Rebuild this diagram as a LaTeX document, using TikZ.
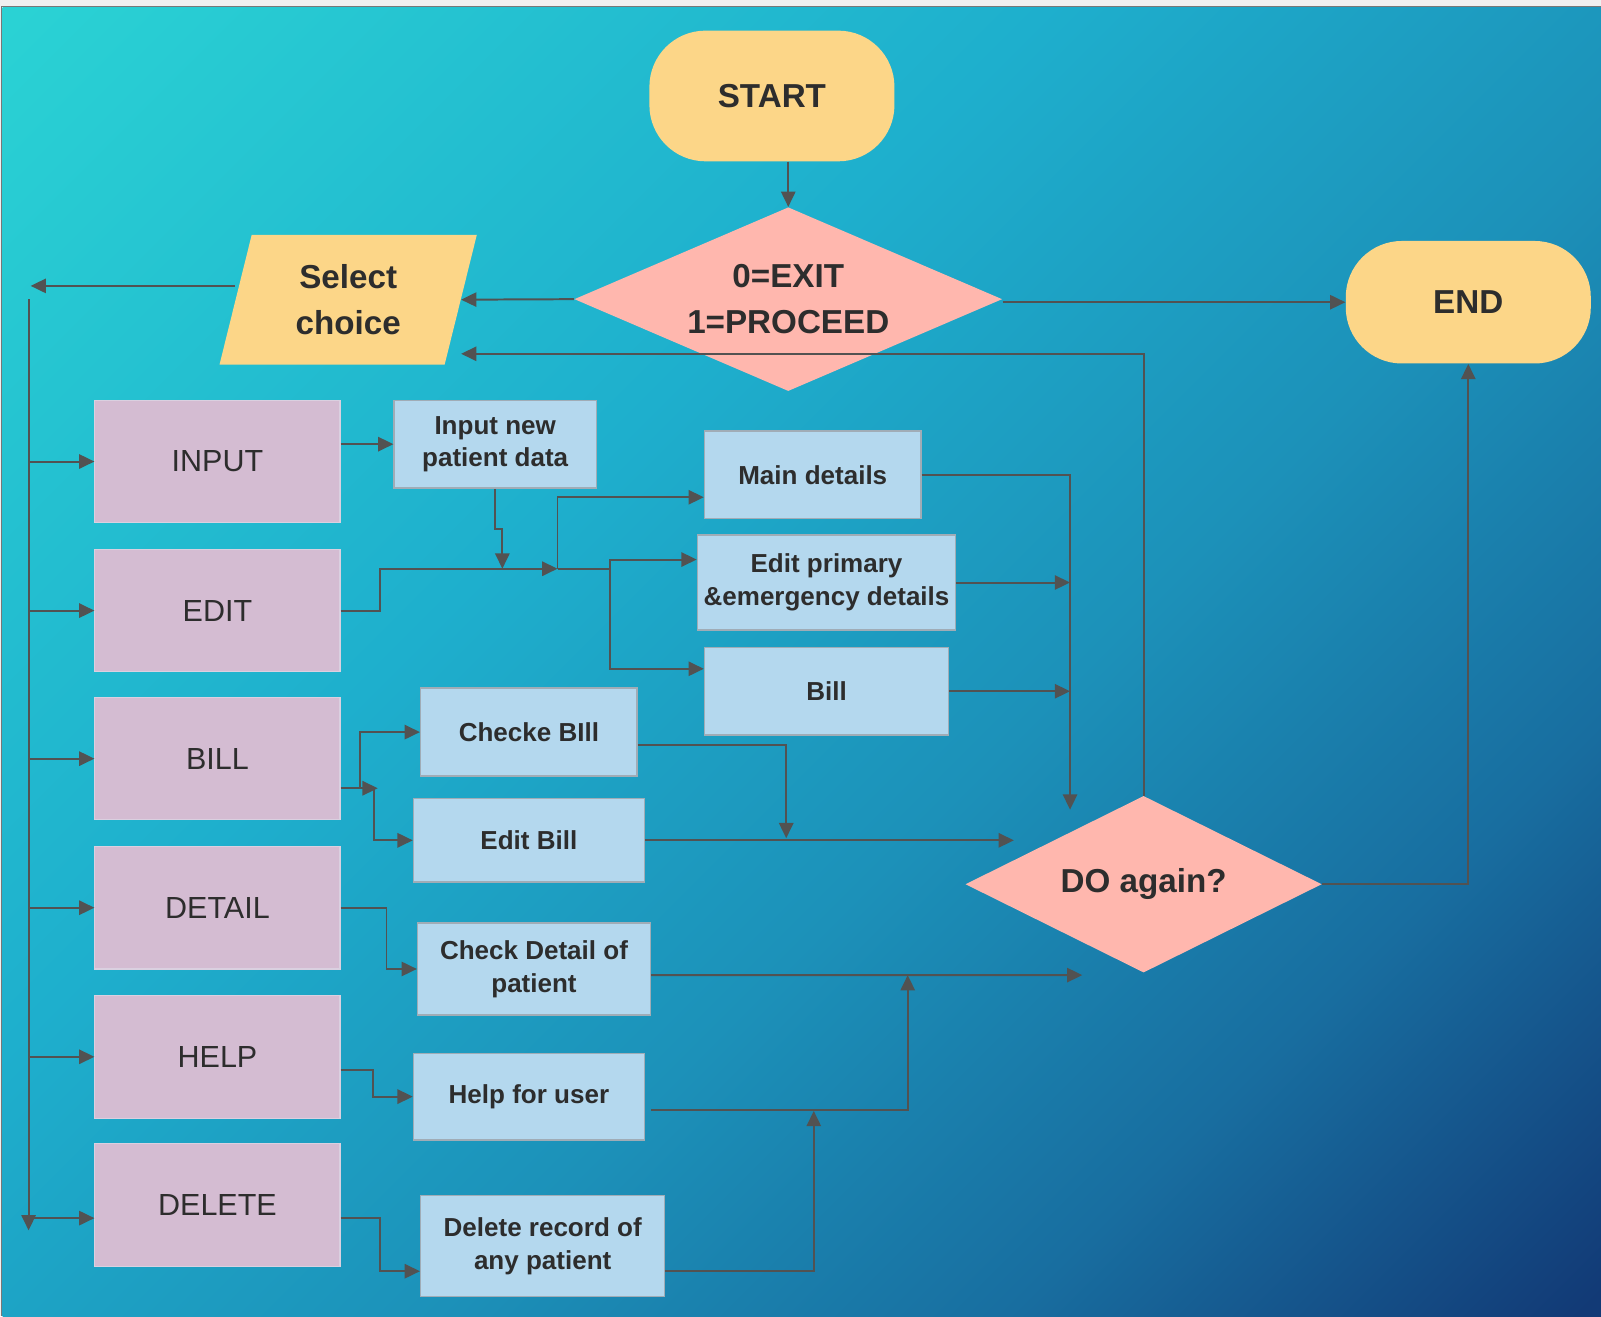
\documentclass[tikz,border=0pt]{standalone}
\usepackage{fontspec}
\setmainfont{Liberation Sans}
\usepackage{xcolor}
\usetikzlibrary{shapes.geometric, arrows.meta, calc}

\definecolor{termyellow}{RGB}{252,214,136}
\definecolor{decpink}{RGB}{255,183,174}
\definecolor{optpurple}{RGB}{212,188,210}
\definecolor{optborder}{RGB}{218,208,224}
\definecolor{taskblue}{RGB}{180,216,238}
\definecolor{taskborder}{RGB}{160,172,182}
\definecolor{linegray}{RGB}{82,82,82}
\definecolor{txtgray}{RGB}{45,45,45}
\definecolor{bggray}{RGB}{240,240,240}
\definecolor{framegray}{RGB}{120,120,120}
\definecolor{bgA}{RGB}{42,210,212}
\definecolor{bgB}{RGB}{30,175,205}
\definecolor{bgC}{RGB}{28,145,185}
\definecolor{bgD}{RGB}{24,110,160}
\definecolor{bgE}{RGB}{18,58,118}

\pgfdeclarehorizontalshading{bgshade}{100bp}{color(0bp)=(bgA); color(15bp)=(bgA); color(40bp)=(bgB); color(57bp)=(bgC); color(71bp)=(bgD); color(85bp)=(bgE); color(100bp)=(bgE)}

\begin{document}
\begin{tikzpicture}[
    term/.style={rectangle, fill=termyellow, rounded corners=1.1cm, minimum width=4.8cm, minimum height=2.56cm, font=\fontsize{18.5}{22}\selectfont\bfseries, text=txtgray},
    decide/.style={diamond, fill=decpink, inner sep=0pt, align=center, font=\fontsize{18.5}{25.6}\selectfont\bfseries, text=txtgray},
    iobox/.style={trapezium, trapezium left angle=76, trapezium right angle=104, trapezium stretches=true, fill=termyellow, minimum width=5.08cm, minimum height=2.54cm, inner sep=0pt, align=center, font=\fontsize{18.5}{25.6}\selectfont\bfseries, text=txtgray},
    opt/.style={rectangle, fill=optpurple, draw=optborder, line width=0.6pt, minimum width=4.8cm, minimum height=2.4cm, font=\fontsize{17}{20}\selectfont, text=txtgray},
    task/.style={rectangle, fill=taskblue, draw=taskborder, line width=0.8pt, inner sep=0pt, align=center, font=\fontsize{14.5}{18.2}\selectfont\bfseries, text=txtgray},
    arrow/.style={-{Triangle[length=0.3cm,width=0.28cm]}, draw=linegray, line width=1.1pt},
    link/.style={draw=linegray, line width=1.1pt}
]
    \useasboundingbox (0,0) rectangle (31.36,-25.78);

    % 背景
    \fill[bggray] (0,0) rectangle (31.36,-25.78);
    \shade[shading=bgshade, shading angle=-45] (0.05,-0.15) rectangle (31.36,-25.78);
    \draw[framegray, line width=0.9pt] (0.03,-25.78) -- (0.03,-0.13) -- (31.36,-0.13);

    % 开始 / 结束
    \node[term] (start) at (15.12,-1.88) {START};
    \node[term, minimum height=2.4cm] (finish) at (28.76,-5.92) {END};

    % 判断
    \node[decide, aspect=2.33, minimum width=8.38cm, minimum height=3.6cm] (choice) at (15.44,-5.86) {0=EXIT\\1=PROCEED};
    \node[decide, aspect=2.02, minimum width=6.98cm, minimum height=3.46cm] (again) at (22.40,-17.32) {DO again?};

    % 输入选择
    \node[iobox] (select) at (6.82,-5.87) {Select\\choice};

    % 菜单
    \node[opt] (input) at (4.26,-9.04) {INPUT};
    \node[opt] (edit) at (4.26,-11.96) {EDIT};
    \node[opt] (bill) at (4.26,-14.86) {BILL};
    \node[opt] (detail) at (4.26,-17.78) {DETAIL};
    \node[opt] (help) at (4.26,-20.70) {HELP};
    \node[opt] (delete) at (4.26,-23.60) {DELETE};

    % 子任务
    \node[task, minimum width=3.96cm, minimum height=1.72cm] (newdata) at (9.70,-8.70) {Input new\\patient data};
    \node[task, minimum width=4.24cm, minimum height=1.72cm] (maindet) at (15.92,-9.30) {Main details};
    \node[task, minimum width=5.06cm, minimum height=1.86cm] (editpri) at (16.19,-11.41) {Edit primary\\\&emergency details};
    \node[task, minimum width=4.78cm, minimum height=1.72cm] (billsub) at (16.19,-13.54) {Bill};
    \node[task, minimum width=4.24cm, minimum height=1.72cm] (chkbill) at (10.36,-14.34) {Checke BIll};
    \node[task, minimum width=4.52cm, minimum height=1.64cm] (editbill) at (10.36,-16.46) {Edit Bill};
    \node[task, minimum width=4.56cm, minimum height=1.80cm] (chkdet) at (10.46,-18.98) {Check Detail of\\patient};
    \node[task, minimum width=4.52cm, minimum height=1.70cm] (helpuser) at (10.36,-21.48) {Help for user};
    \node[task, minimum width=4.78cm, minimum height=1.98cm] (delrec) at (10.63,-24.41) {Delete record of\\any patient};

    % 连接点
    \coordinate (bustop) at (0.60,-5.60);
    \coordinate (busstart) at (0.56,-5.86);
    \coordinate (busbot) at (0.56,-24.10);
    \coordinate (delin) at ([yshift=-0.26cm]delete.west);
    \coordinate (jnew) at (9.84,-11.14);
    \coordinate (jmain) at (10.92,-11.14);
    \coordinate (jsplit) at (11.94,-11.14);
    \coordinate (jright) at (20.96,-15.86);
    \coordinate (jbill) at (7.40,-15.44);
    \coordinate (jb1) at (7.06,-15.44);
    \coordinate (jb2) at (7.32,-15.44);
    \coordinate (jeb) at (15.40,-16.42);
    \coordinate (jmid) at (19.86,-16.46);
    \coordinate (jlow) at (21.20,-19.10);
    \coordinate (jhelp) at (17.78,-19.10);
    \coordinate (jdel) at (15.94,-21.76);

    % 主流程
    \draw[arrow] (choice.north |- start.south) -- (choice.north);
    \draw[arrow] (finish.west -| choice.east) -- (finish.west);
    \draw[arrow] (choice.west) -- (select.east);
    \draw[arrow] (again.north) |- ([yshift=-1.06cm]select.east);
    \draw[arrow] (again.east) -| (finish.south);

    % 左侧总线
    \draw[arrow] (select.west |- bustop) -- (bustop);
    \draw[arrow] (busstart) -- (busbot);
    \draw[arrow] (input.west -| busbot) -- (input.west);
    \draw[arrow] (edit.west -| busbot) -- (edit.west);
    \draw[arrow] (bill.west -| busbot) -- (bill.west);
    \draw[arrow] (detail.west -| busbot) -- (detail.west);
    \draw[arrow] (help.west -| busbot) -- (help.west);
    \draw[arrow] (delin -| busbot) -- (delin);

    % INPUT / EDIT
    \draw[arrow] (newdata.west -| input.east) -- (newdata.west);
    \draw[arrow] (newdata.south) -- ++(0,-0.78) -| (jnew);
    \draw[arrow] (edit.east) -- ++(0.78,0) |- (jmain);
    \draw[link] (jmain) -- (jsplit);
    \draw[arrow] (jmain) |- ([yshift=-0.44cm]maindet.west);
    \draw[arrow] (jsplit) |- ([yshift=0.45cm]editpri.west);
    \draw[arrow] (jsplit) |- ([yshift=0.44cm]billsub.west);
    \draw[arrow] (maindet.east) -| (jright);
    \draw[arrow] (editpri.east) -- (editpri.east -| jright);
    \draw[arrow] (billsub.east) -- (billsub.east -| jright);

    % BILL
    \draw[arrow] ([yshift=-0.58cm]bill.east) -- (jbill);
    \draw[arrow] (jb1) |- (chkbill.west);
    \draw[arrow] (jb2) |- (editbill.west);
    \draw[arrow] ([yshift=-0.26cm]chkbill.east) -| (jeb);
    \draw[arrow] (editbill.east) -- (jmid);

    % DETAIL / HELP / DELETE
    \draw[arrow] (detail.east) -- ++(0.9,0) |- (chkdet.west);
    \draw[arrow] ([yshift=-0.26cm]help.east) -- ++(0.64,0) |- (helpuser.west);
    \draw[arrow] ([yshift=-0.26cm]delete.east) -- ++(0.78,0) |- ([yshift=-0.49cm]delrec.west);
    \draw[arrow] ([yshift=-0.12cm]chkdet.east) -- (jlow);
    \draw[arrow] ([xshift=0.12cm,yshift=-0.26cm]helpuser.east) -| (jhelp);
    \draw[arrow] ([yshift=-0.49cm]delrec.east) -| (jdel);
\end{tikzpicture}
\end{document}
